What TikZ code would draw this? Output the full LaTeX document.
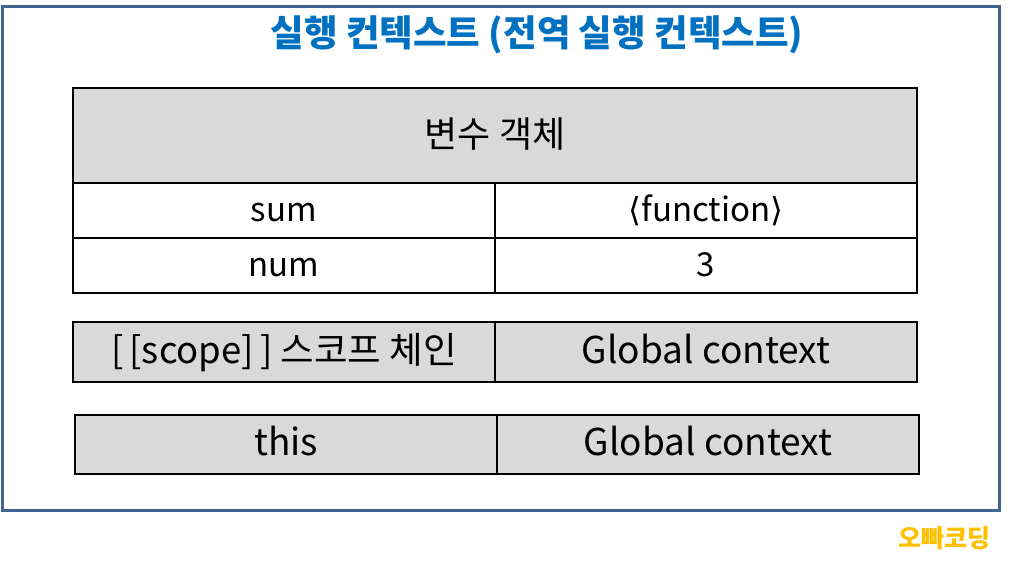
\documentclass[tikz,border=0pt]{standalone}
\usepackage{fontspec}
\setmainfont{Noto Sans CJK KR}
\newfontfamily\symfont{DejaVu Sans}
\definecolor{framecol}{HTML}{41638F}
\definecolor{titleblue}{HTML}{0070C0}
\definecolor{cellgray}{HTML}{D9D9D9}
\definecolor{wmark}{HTML}{FFC000}
\tikzset{
  cell/.style={draw=black, line width=1.6pt, inner sep=0pt, text height=27pt, text depth=6pt, font=\fontsize{33}{38}\selectfont},
  graycell/.style={cell, fill=cellgray},
  headtext/.style={font=\fontsize{36}{42}\selectfont, text height=30pt, text depth=6pt},
  bigtext/.style={font=\fontsize{37}{42}\selectfont, text height=26pt, text depth=4pt},
}
\begin{document}
\begin{tikzpicture}[x=1pt,y=-1pt]
\useasboundingbox (0,0) rectangle (1024,566);
\draw[framecol, line width=3pt] (2,6) rectangle (999,510);
\node[text=titleblue, font=\fontsize{36.5}{42}\selectfont\bfseries] (title) at (537,35) {실행 컨텍스트 (전역 실행 컨텍스트)};
% table 1
\node[graycell, headtext, minimum width=844, minimum height=95] (head) at (495,135.5) {변수 객체};
\node[cell, minimum width=422, minimum height=55] (sum) at (284,210.5) {sum};
\node[cell, minimum width=422, minimum height=55] (fn) at (706,210.5) {{\symfont ⟨}function{\symfont ⟩}};
\node[cell, minimum width=422, minimum height=55] (num) at (284,265.5) {num};
\node[cell, minimum width=422, minimum height=55] (three) at (706,265.5) {3};
% table 2
\node[graycell, bigtext, font=\fontsize{36.5}{42}\selectfont, minimum width=422, minimum height=60] (scope) at (284,352) {[\,[scope]\,] 스코프 체인};
\node[graycell, bigtext, minimum width=422, minimum height=60] (gc1) at (706,352) {Global context};
% table 3
\node[graycell, bigtext, minimum width=422, minimum height=59] (this) at (286,444.5) {this};
\node[graycell, bigtext, minimum width=422, minimum height=59] (gc2) at (708,444.5) {Global context};
\node[text=wmark, font=\fontsize{25}{29}\selectfont\bfseries] (wm) at (944,538) {오빠코딩};
\end{tikzpicture}
\end{document}
